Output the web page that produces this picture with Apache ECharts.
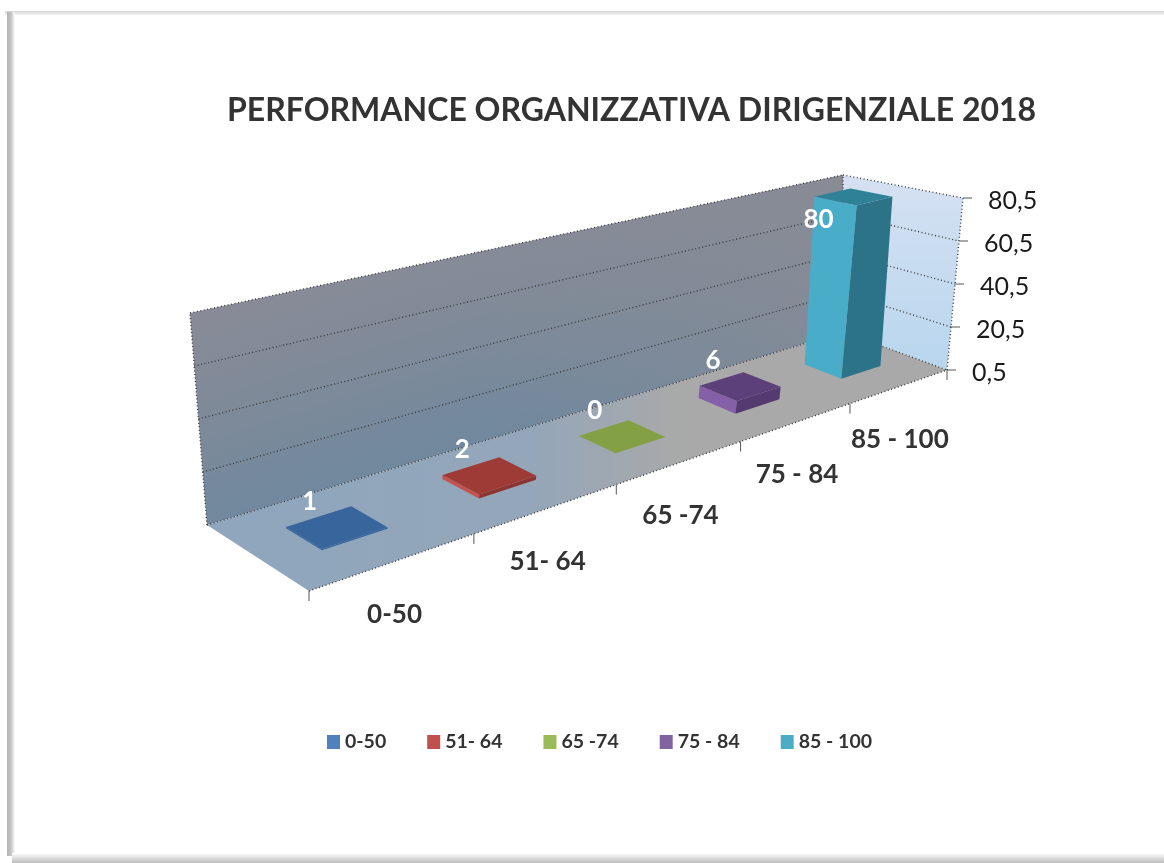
<!DOCTYPE html>
<html>
<head>
<meta charset="utf-8">
<title>Performance organizzativa dirigenziale 2018</title>
<style>
  html, body { margin: 0; padding: 0; background: #fff; }
  #chart-container { width: 1164px; height: 863px; }
</style>
</head>
<body>
<div id="chart-container"></div>
<script src="https://cdn.jsdelivr.net/npm/echarts@6/dist/echarts.min.js"></script>
<script type="text/javascript">
// chart data
var titleText = 'PERFORMANCE ORGANIZZATIVA DIRIGENZIALE 2018';
var categories = ['0-50', '51- 64', '65 -74', '75 - 84', '85 - 100'];
var values = [1, 2, 0, 6, 80];
var yTicks = [0.5, 20.5, 40.5, 60.5, 80.5];
var yTickLabels = ['0,5', '20,5', '40,5', '60,5', '80,5'];

// per bar colours: legend, left face, top, right face
var legendColors = ['#4f81bd', '#c0504d', '#9bbb59', '#8064a2', '#4bacc6'];
var leftColors = ['#38659c', '#c4524e', '#8fae4e', '#8460a8', '#49acc9'];
var topColors = ['#38659c', '#9e3b37', '#84a044', '#5c4079', '#2f8197'];
var rightColors = ['#38659c', '#8c3431', '#75903b', '#553a70', '#2c7388'];

// corners of the 3D box on screen, floor and top plane
// order: front-left, front-right, back-right, back-left
var floorQuad = [[309, 591], [947, 370], [843, 332], [207, 525]];
var topQuad = [[295, 370], [963, 198], [843, 175], [190, 313]];

// square to quad homography
function makeHomography(q) {
    var sx = q[0][0] - q[1][0] + q[2][0] - q[3][0];
    var sy = q[0][1] - q[1][1] + q[2][1] - q[3][1];
    var dx1 = q[1][0] - q[2][0], dx2 = q[3][0] - q[2][0];
    var dy1 = q[1][1] - q[2][1], dy2 = q[3][1] - q[2][1];
    var det = dx1 * dy2 - dx2 * dy1;
    var g = (sx * dy2 - dx2 * sy) / det;
    var h = (dx1 * sy - sx * dy1) / det;
    return function (u, w) {
        var d = 1 + g * u + h * w;
        return [
            (q[0][0] + (q[1][0] - q[0][0] + g * q[1][0]) * u + (q[3][0] - q[0][0] + h * q[3][0]) * w) / d,
            (q[0][1] + (q[1][1] - q[0][1] + g * q[1][1]) * u + (q[3][1] - q[0][1] + h * q[3][1]) * w) / d
        ];
    };
}
var floorMap = makeHomography(floorQuad);
var topMap = makeHomography(topQuad);

// u along the categories, w into the depth, h up the value axis (all 0..1)
function project(u, w, h) {
    var a = floorMap(u, w), b = topMap(u, w);
    return [a[0] + (b[0] - a[0]) * h, a[1] + (b[1] - a[1]) * h];
}

function poly(points, fill) {
    return { type: 'polygon', shape: { points: points }, style: { fill: fill, stroke: null } };
}
function dotted(p, q) {
    return {
        type: 'line',
        shape: { x1: p[0], y1: p[1], x2: q[0], y2: q[1] },
        style: { stroke: '#3a3a3a', lineWidth: 1.4, lineDash: [1, 2.5], fill: null }
    };
}
function tick(p, dx, dy) {
    return {
        type: 'line',
        shape: { x1: p[0], y1: p[1], x2: p[0] + dx, y2: p[1] + dy },
        style: { stroke: '#555', lineWidth: 1, fill: null }
    };
}
function label(text, x, y, font, fill, align) {
    return {
        type: 'text',
        style: { text: text, x: x, y: y, font: font, fill: fill, textAlign: align || 'center', textVerticalAlign: 'middle' }
    };
}

function uOf(params, px) { return (px - params.coordSys.x) / params.coordSys.width; }
function hOf(params, py) { return (params.coordSys.y + params.coordSys.height - py) / params.coordSys.height; }

// walls, floor, grid lines, ticks and axis labels
function renderBack(params, api) {
    var kids = [];
    var band = api.size([1, 0])[0];
    var backWall = [project(0, 1, 0), project(1, 1, 0), project(1, 1, 1), project(0, 1, 1)];

    kids.push(poly(backWall, {
        type: 'linear', global: true, x: 480, y: 215, x2: 545, y2: 425,
        colorStops: [
            { offset: 0, color: '#8a8b97' },
            { offset: 0.55, color: '#7d8a99' },
            { offset: 1, color: '#70889e' }
        ]
    }));
    // wall goes greyer towards the right
    kids.push(poly(backWall, {
        type: 'linear', global: true, x: 480, y: 0, x2: 843, y2: 0,
        colorStops: [
            { offset: 0, color: 'rgba(140,140,148,0)' },
            { offset: 1, color: 'rgba(140,140,148,0.7)' }
        ]
    }));
    kids.push(poly([project(1, 1, 0), project(1, 0, 0), project(1, 0, 1), project(1, 1, 1)], {
        type: 'linear', global: true, x: 0, y: 175, x2: 0, y2: 370,
        colorStops: [
            { offset: 0, color: '#d5e1f2' },
            { offset: 1, color: '#b8d6ee' }
        ]
    }));
    kids.push(poly([project(0, 0, 0), project(1, 0, 0), project(1, 1, 0), project(0, 1, 0)], {
        type: 'linear', global: true, x: 250, y: 0, x2: 947, y2: 0,
        colorStops: [
            { offset: 0, color: '#8fa6bd' },
            { offset: 0.4, color: '#94a6b9' },
            { offset: 0.62, color: '#a9a9a9' },
            { offset: 1, color: '#a9a9a9' }
        ]
    }));

    yTicks.forEach(function (v, i) {
        var h = hOf(params, api.coord([0, v])[1]);
        kids.push(dotted(project(0, 1, h), project(1, 1, h)));
        kids.push(dotted(project(1, 1, h), project(1, 0, h)));
        var p = project(1, 0, h);
        kids.push(tick(p, 9, 0));
        kids.push(label(yTickLabels[i], p[0] + 25, p[1] + 3, '25px Lato', '#1a1a1a', 'left'));
    });
    kids.push(dotted(project(0, 1, 0), project(0, 1, 1)));
    kids.push(dotted(project(1, 0, 0), project(1, 0, 1)));
    kids.push(dotted(project(1, 1, 0), project(1, 1, 1)));
    kids.push(dotted(project(0, 0, 0), project(1, 0, 0)));

    categories.forEach(function (c, i) {
        var cx = api.coord([i, 0.5])[0];
        kids.push(tick(project(uOf(params, cx - band / 2), 0, 0), 0, 10));
        var p = project(uOf(params, cx), 0, 0);
        kids.push(label(c, p[0], p[1] + 53, 'bold 26px Lato', '#333', 'center'));
    });
    kids.push(tick(project(1, 0, 0), 0, 10));
    return { type: 'group', children: kids };
}

// one 3D bar, width and depth are fractions of the band / floor
var barShare = 0.4, depthFrom = 0.35, depthTo = 0.70;
function renderBar(params, api) {
    var i = api.value(0), v = api.value(1);
    var pos = api.coord([i, v]);
    var band = api.size([1, 0])[0];
    var u0 = uOf(params, pos[0] - band * barShare / 2) - 0.002;
    var u1 = uOf(params, pos[0] + band * barShare / 2) - 0.002;
    var h = Math.max(0, hOf(params, pos[1]));

    var a = project(u0, depthTo, 0), b = project(u0, depthFrom, 0), c = project(u1, depthFrom, 0);
    var at = project(u0, depthTo, h), bt = project(u0, depthFrom, h), ct = project(u1, depthFrom, h), dt = project(u1, depthTo, h);

    var kids = [
        poly([a, b, bt, at], leftColors[i]),
        poly([b, c, ct, bt], rightColors[i]),
        poly([at, bt, ct, dt], topColors[i])
    ];
    var mid = project((u0 + u1) / 2, 0.5, h);
    // the tall bar carries its label inside, the flat ones above
    var lx = h > 0.5 ? mid[0] - 38 : mid[0] - 30;
    var ly = h > 0.5 ? mid[1] + 22 : mid[1] - 27;
    kids.push(label(String(v), lx, ly, 'bold 26px Lato', '#fff', 'center'));
    return { type: 'group', children: kids };
}

var myChart = echarts.init(document.getElementById('chart-container'), null, { renderer: 'canvas' });

var seriesList = [{
    type: 'custom',
    name: 'back',
    silent: true,
    z: 1,
    data: [[0, 0.5]],
    encode: { x: 0, y: 1 },
    renderItem: renderBack
}];
categories.forEach(function (c, i) {
    seriesList.push({
        type: 'custom',
        name: c,
        silent: true,
        z: 2,
        itemStyle: { color: legendColors[i] },
        data: [[i, values[i]]],
        encode: { x: 0, y: 1 },
        renderItem: renderBar
    });
});

var option = {
    animation: false,
    backgroundColor: '#fff',
    title: {
        text: titleText,
        left: 222,
        top: 90,
        textStyle: { fontFamily: 'Lato', fontWeight: 'bold', fontSize: 32, color: '#333' }
    },
    legend: {
        data: categories,
        left: 322,
        top: 727,
        icon: 'rect',
        itemWidth: 13,
        itemHeight: 14,
        itemGap: 41,
        selectedMode: false,
        textStyle: { fontFamily: 'Lato', fontWeight: 'bold', fontSize: 19.5, color: '#333' }
    },
    grid: { left: 200, right: 200, top: 200, bottom: 200, show: false },
    xAxis: { type: 'category', data: categories, show: false },
    yAxis: { type: 'value', min: 0.5, max: 80.5, show: false },
    // picture frame around the chart
    graphic: [
        { type: 'rect', z: 0, shape: { x: 5, y: 11, width: 1159, height: 4 }, style: { fill: { type: 'linear', x: 0, y: 0, x2: 0, y2: 1, colorStops: [{ offset: 0, color: '#d4d4d4' }, { offset: 1, color: '#f4f4f4' }] } } },
        { type: 'rect', z: 0, shape: { x: 7, y: 12, width: 8, height: 844 }, style: { fill: { type: 'linear', x: 0, y: 0, x2: 1, y2: 0, colorStops: [{ offset: 0, color: '#b4b4b4' }, { offset: 0.5, color: '#c4c4c4' }, { offset: 1, color: '#ffffff' }] } } },
        { type: 'rect', z: 0, shape: { x: 12, y: 853, width: 1152, height: 10 }, style: { fill: { type: 'linear', x: 0, y: 0, x2: 0, y2: 1, colorStops: [{ offset: 0, color: '#ffffff' }, { offset: 1, color: '#bdbdbd' }] } } }
    ],
    series: seriesList
};

myChart.setOption(option);
window.addEventListener('resize', myChart.resize);
</script>
</body>
</html>
